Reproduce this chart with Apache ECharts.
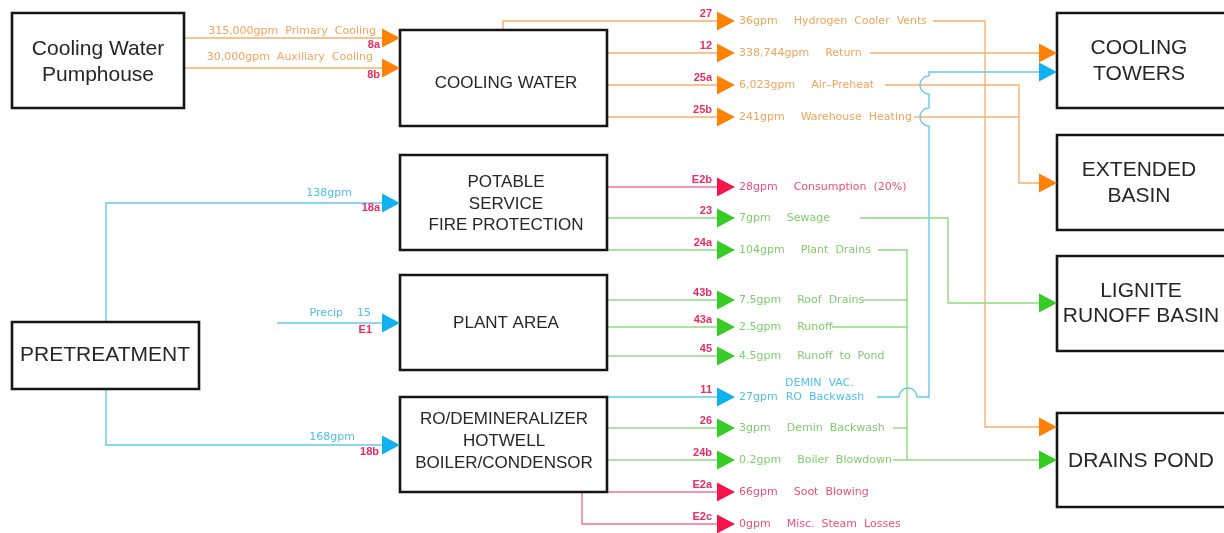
<!DOCTYPE html>
<html>
<head>
<meta charset="utf-8">
<title>Water balance</title>
<script src="https://cdn.jsdelivr.net/npm/echarts@6/dist/echarts.min.js"></script>
<style>
html,body{margin:0;padding:0;background:#fff;}
#main{width:1224px;height:533px;}
</style>
</head>
<body>
<div id="main"></div>
<script>
/*********** data ***********/
var nodeNames = ['Cooling Water\nPumphouse', 'COOLING WATER', 'POTABLE\nSERVICE\nFIRE PROTECTION', 'PLANT AREA',
    'RO/DEMINERALIZER\nHOTWELL\nBOILER/CONDENSOR', 'PRETREATMENT', 'COOLING\nTOWERS', 'EXTENDED\nBASIN',
    'LIGNITE\nRUNOFF BASIN', 'DRAINS POND'];

// streams coming into the plant boxes (left side)
var inIds    = ['8a', '8b', '18a', 'E1', '18b'];
var inLabels = ['315,000gpm  Primary  Cooling', '30,000gpm  Auxiliary  Cooling', '138gpm', 'Precip    15', '168gpm'];
var inKinds  = ['cooling', 'cooling', 'makeup', 'makeup', 'makeup'];

// streams leaving the plant boxes (middle column)
var outIds   = ['27', '12', '25a', '25b', 'E2b', '23', '24a', '43b', '43a', '45', '11', '26', '24b', 'E2a', 'E2c'];
var outRates = ['36gpm', '338,744gpm', '6,023gpm', '241gpm', '28gpm', '7gpm', '104gpm', '7.5gpm', '2.5gpm',
    '4.5gpm', '27gpm', '3gpm', '0.2gpm', '66gpm', '0gpm'];
var outNames = ['Hydrogen  Cooler  Vents', 'Return', 'Air\u2013Preheat', 'Warehouse  Heating', 'Consumption  (20%)',
    'Sewage', 'Plant  Drains', 'Roof  Drains', 'Runoff', 'Runoff  to  Pond', 'RO  Backwash', 'Demin  Backwash',
    'Boiler  Blowdown', 'Soot  Blowing', 'Misc.  Steam  Losses'];
var outKinds = ['cooling', 'cooling', 'cooling', 'cooling', 'loss', 'drain', 'drain', 'drain', 'drain', 'drain',
    'makeup', 'drain', 'drain', 'loss', 'loss'];
var outNotes = ['', '', '', '', '', '', '', '', '', '', 'DEMIN  VAC.', '', '', '', ''];

/*********** layout (drawing positions, px) ***********/
// x1, y1, x2, y2, text centre x, text centre y, font size, line height
var nodeBox = [
    [12, 13, 184, 108, 98, 62, 21, 26],
    [400, 30, 607, 126, 506, 83, 17, 20],
    [400, 155, 607, 250, 506, 204, 17, 21.5],
    [400, 275, 607, 370, 506, 323, 17, 20],
    [400, 397, 607, 492, 504, 441, 17, 22],
    [12, 322, 199, 389, 105, 355, 21, 24],
    [1057, 13, 1232, 108, 1139, 61, 21, 26],
    [1057, 135, 1232, 230, 1139, 183, 21, 26],
    [1057, 256, 1232, 351, 1141, 304, 21, 25],
    [1057, 413, 1232, 507, 1141, 461, 21, 25]
];
var inRows    = [38, 68, 203, 323, 445];
var inLabelXY = [[376, 31], [373, 57], [352, 193], [371, 313], [355, 437]];
var inIdXY    = [[380, 45], [380, 75], [380, 208], [372, 330], [379, 452]];
var outRows   = [21, 53, 85, 117, 187, 218, 250, 300, 327, 356, 397, 428, 460, 492, 524];

var KIND_LINE  = {cooling: '#F8B06C', makeup: '#66CAF0', drain: '#8FDC7C', loss: '#F37391'};
var KIND_ARROW = {cooling: '#FF8206', makeup: '#0FB1F0', drain: '#35CC24', loss: '#F6154A'};
var KIND_TEXT  = {cooling: '#F1A45A', makeup: '#4FC0EE', drain: '#7CCE69', loss: '#EE4E7D'};
var ID_COLOR = '#EE2A62';

// semicircle "hop" where a line jumps over another
function hop(cx, cy, r, dir) {
    var pts = [];
    for (var k = 0; k <= 12; k++) {
        var t = Math.PI * k / 12;
        if (dir === 'up') pts.push([cx - r * Math.cos(t), cy - r * Math.sin(t)]);
        else pts.push([cx - r * Math.sin(t), cy + r * Math.cos(t)]);
    }
    return pts;
}

var routes = [
    ['cooling', [[184, 38], [384, 38]]],
    ['cooling', [[184, 68], [384, 68]]],
    ['cooling', [[503, 30], [503, 21], [718, 21]]],
    ['cooling', [[607, 53], [718, 53]]],
    ['cooling', [[607, 85], [718, 85]]],
    ['cooling', [[607, 117], [718, 117]]],
    ['cooling', [[933, 21], [985, 21], [985, 427], [1041, 427]]],
    ['cooling', [[870, 53], [1041, 53]]],
    ['cooling', [[885, 85], [1019, 85], [1019, 183], [1041, 183]]],
    ['cooling', [[914, 117], [1019, 117]]],
    ['makeup', [[106, 322], [106, 203], [384, 203]]],
    ['makeup', [[106, 389], [106, 445], [384, 445]]],
    ['makeup', [[277, 323], [384, 323]]],
    ['makeup', [[607, 397], [718, 397]]],
    ['makeup', [[877, 397]].concat(hop(908, 397, 9, 'up'), [[929, 397], [929, 126]],
        hop(929, 117, 9, 'left'), [[929, 94]], hop(929, 85, 9, 'left'), [[929, 72], [1041, 72]])],
    ['drain', [[607, 218], [718, 218]]],
    ['drain', [[607, 250], [718, 250]]],
    ['drain', [[607, 300], [718, 300]]],
    ['drain', [[607, 327], [718, 327]]],
    ['drain', [[607, 356], [718, 356]]],
    ['drain', [[607, 428], [718, 428]]],
    ['drain', [[607, 460], [718, 460]]],
    ['drain', [[860, 218], [948, 218], [948, 303], [1041, 303]]],
    ['drain', [[878, 250], [907, 250], [907, 460]]],
    ['drain', [[863, 300], [907, 300]]],
    ['drain', [[832, 327], [907, 327]]],
    ['drain', [[893, 428], [907, 428]]],
    ['drain', [[893, 460], [1041, 460]]],
    ['loss', [[607, 187], [718, 187]]],
    ['loss', [[607, 492], [718, 492]]],
    ['loss', [[582, 493], [582, 524], [718, 524]]]
];

// arrow heads: tip x, y, kind
var arrows = [];
inRows.forEach(function (y, i) { arrows.push([400, y, inKinds[i]]); });
outRows.forEach(function (y, i) { arrows.push([735, y, outKinds[i]]); });
arrows.push([1057, 53, 'cooling'], [1057, 72, 'makeup'], [1057, 183, 'cooling'],
    [1057, 303, 'drain'], [1057, 427, 'cooling'], [1057, 460, 'drain']);

var FLOW_FONT = '"DejaVu Sans", sans-serif';
var BOX_FONT = '"Liberation Sans", Arial, sans-serif';

var chartDom = document.getElementById('main');
var chart = echarts.init(chartDom);

function idx(arr) { return arr.map(function (d, i) { return [i]; }); }

var option = {
    animation: false,
    backgroundColor: '#fff',
    grid: {left: 0, right: 0, top: 0, bottom: 0},
    xAxis: {type: 'value', min: 0, max: 1224, show: false},
    yAxis: {type: 'value', min: 0, max: 533, inverse: true, show: false},
    series: [
        {
            // flow lines
            type: 'custom', z: 1, silent: true,
            data: idx(routes),
            renderItem: function (params, api) {
                var r = routes[params.dataIndex];
                return {
                    type: 'polyline',
                    shape: {points: r[1].map(function (p) { return api.coord(p); })},
                    style: {stroke: KIND_LINE[r[0]], lineWidth: 1.4, fill: null}
                };
            }
        },
        {
            // boxes
            type: 'custom', z: 2, silent: true,
            data: idx(nodeNames),
            renderItem: function (params, api) {
                var b = nodeBox[params.dataIndex];
                var p1 = api.coord([b[0], b[1]]), p2 = api.coord([b[2], b[3]]);
                var c = api.coord([b[4], b[5]]);
                return {
                    type: 'group',
                    children: [
                        {type: 'rect', shape: {x: p1[0], y: p1[1], width: p2[0] - p1[0], height: p2[1] - p1[1]},
                            style: {fill: '#fff', stroke: '#151515', lineWidth: 2.6}},
                        {type: 'text', x: c[0], y: c[1],
                            style: {text: nodeNames[params.dataIndex], fill: '#262626', fontFamily: BOX_FONT,
                                fontSize: b[6], lineHeight: b[7], align: 'center', verticalAlign: 'middle'}}
                    ]
                };
            }
        },
        {
            // arrow heads
            type: 'custom', z: 3, silent: true,
            data: idx(arrows),
            renderItem: function (params, api) {
                var a = arrows[params.dataIndex];
                var tip = api.coord([a[0], a[1]]);
                return {
                    type: 'polygon',
                    shape: {points: [[tip[0] - 18, tip[1] - 9.5], tip, [tip[0] - 18, tip[1] + 9.5]]},
                    style: {fill: KIND_ARROW[a[2]]}
                };
            }
        },
        {
            // inflow labels and stream numbers
            type: 'custom', z: 4, silent: true,
            data: idx(inIds),
            renderItem: function (params, api) {
                var i = params.dataIndex;
                var l = api.coord(inLabelXY[i]), d = api.coord(inIdXY[i]);
                return {
                    type: 'group',
                    children: [
                        {type: 'text', x: l[0], y: l[1],
                            style: {text: inLabels[i], fill: KIND_TEXT[inKinds[i]], fontFamily: FLOW_FONT,
                                fontSize: 11, align: 'right', verticalAlign: 'middle'}},
                        {type: 'text', x: d[0], y: d[1],
                            style: {text: inIds[i], fill: ID_COLOR, fontFamily: BOX_FONT, fontWeight: 'bold',
                                fontSize: 11, align: 'right', verticalAlign: 'middle'}}
                    ]
                };
            }
        },
        {
            // outflow labels and stream numbers
            type: 'custom', z: 4, silent: true,
            data: idx(outIds),
            renderItem: function (params, api) {
                var i = params.dataIndex;
                var y = outRows[i];
                var l = api.coord([739, y]), d = api.coord([712, y - 7]);
                var col = KIND_TEXT[outKinds[i]];
                var gap = outNotes[i] ? 8 : 16;
                var kids = [
                    {type: 'text', x: l[0], y: l[1],
                        style: {text: '{r|' + outRates[i] + '}{g| }{n|' + outNames[i] + '}',
                            fill: col, fontFamily: FLOW_FONT, fontSize: 11, align: 'left', verticalAlign: 'middle',
                            rich: {
                                r: {fill: col, fontFamily: FLOW_FONT, fontSize: 11},
                                g: {width: gap, fontSize: 11},
                                n: {fill: col, fontFamily: FLOW_FONT, fontSize: 11}
                            }}},
                    {type: 'text', x: d[0], y: d[1],
                        style: {text: outIds[i], fill: ID_COLOR, fontFamily: BOX_FONT, fontWeight: 'bold',
                            fontSize: 11, align: 'right', verticalAlign: 'middle'}}
                ];
                if (outNotes[i]) {
                    var n = api.coord([785, y - 14]);
                    kids.push({type: 'text', x: n[0], y: n[1],
                        style: {text: outNotes[i], fill: col, fontFamily: FLOW_FONT, fontSize: 11,
                            align: 'left', verticalAlign: 'middle'}});
                }
                return {type: 'group', children: kids};
            }
        }
    ]
};

chart.setOption(option);
</script>
</body>
</html>
